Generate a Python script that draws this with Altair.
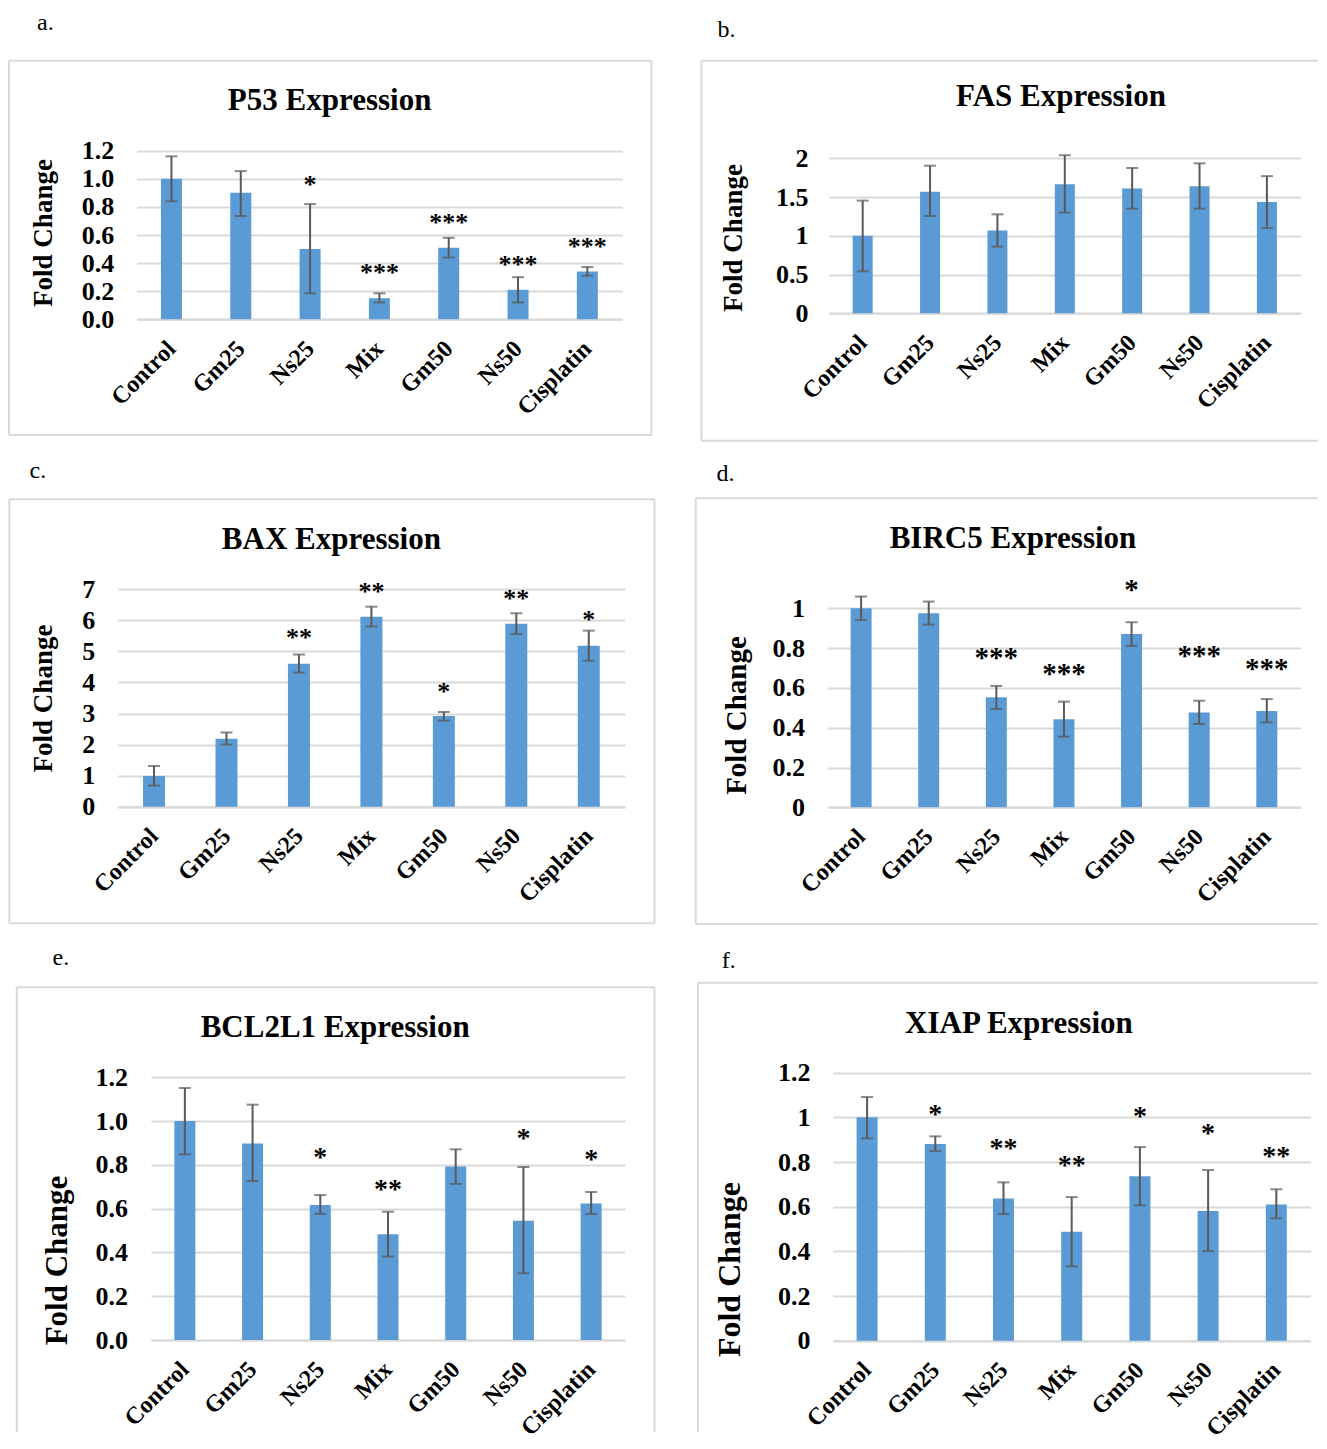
import altair as alt
import pandas as pd

groups = ["Control", "Gm25", "Ns25", "Mix", "Gm50", "Ns50", "Cisplatin"]

# a. P53
p53_mean = [1.00, 0.90, 0.50, 0.15, 0.51, 0.21, 0.34]
p53_low = [0.84, 0.735, 0.185, 0.12, 0.44, 0.12, 0.31]
p53_high = [1.16, 1.055, 0.82, 0.185, 0.58, 0.30, 0.372]
p53_sig = ["", "", "*", "***", "***", "***", "***"]
p53_sig_at = [None, None, 0.99, 0.367, 0.72, 0.42, 0.55]

# b. FAS
fas_mean = [1.00, 1.57, 1.067, 1.665, 1.61, 1.64, 1.437]
fas_low = [0.542, 1.256, 0.86, 1.30, 1.35, 1.35, 1.10]
fas_high = [1.454, 1.905, 1.277, 2.04, 1.875, 1.935, 1.77]
fas_sig = ["", "", "", "", "", "", ""]
fas_sig_at = [None] * 7

# c. BAX
bax_mean = [0.99, 2.19, 4.60, 6.12, 2.92, 5.89, 5.18]
bax_low = [0.68, 2.00, 4.32, 5.80, 2.77, 5.56, 4.70]
bax_high = [1.31, 2.39, 4.90, 6.44, 3.05, 6.23, 5.67]
bax_sig = ["", "", "**", "**", "*", "**", "*"]
bax_sig_at = [None, None, 5.59, 7.06, 3.85, 6.84, 6.17]

# d. BIRC5
birc5_mean = [1.00, 0.975, 0.553, 0.442, 0.871, 0.476, 0.484]
birc5_low = [0.941, 0.918, 0.494, 0.355, 0.811, 0.419, 0.427]
birc5_high = [1.059, 1.034, 0.61, 0.531, 0.93, 0.536, 0.544]
birc5_sig = ["", "", "***", "***", "*", "***", "***"]
birc5_sig_at = [None, None, 0.774, 0.693, 1.116, 0.784, 0.719]

# e. BCL2L1
bcl_mean = [1.00, 0.898, 0.617, 0.483, 0.792, 0.545, 0.624]
bcl_low = [0.848, 0.726, 0.576, 0.381, 0.713, 0.305, 0.576]
bcl_high = [1.151, 1.075, 0.662, 0.586, 0.871, 0.79, 0.676]
bcl_sig = ["", "", "*", "**", "", "*", "*"]
bcl_sig_at = [None, None, 0.854, 0.708, None, 0.94, 0.845]

# f. XIAP
xiap_mean = [1.00, 0.881, 0.637, 0.488, 0.736, 0.581, 0.61]
xiap_low = [0.906, 0.849, 0.567, 0.333, 0.606, 0.401, 0.548]
xiap_high = [1.091, 0.915, 0.709, 0.643, 0.867, 0.764, 0.678]
xiap_sig = ["", "*", "**", "**", "*", "*", "**"]
xiap_sig_at = [None, 1.031, 0.882, 0.806, 1.022, 0.949, 0.846]

panels = [
    dict(letter="a.", title="P53 Expression", mean=p53_mean, low=p53_low, high=p53_high,
         sig=p53_sig, sig_at=p53_sig_at, ymax=1.2, ticks=[0, 0.2, 0.4, 0.6, 0.8, 1.0, 1.2], fmt=".1f"),
    dict(letter="b.", title="FAS Expression", mean=fas_mean, low=fas_low, high=fas_high,
         sig=fas_sig, sig_at=fas_sig_at, ymax=2.0, ticks=[0, 0.5, 1.0, 1.5, 2.0], fmt=".1~f"),
    dict(letter="c.", title="BAX Expression", mean=bax_mean, low=bax_low, high=bax_high,
         sig=bax_sig, sig_at=bax_sig_at, ymax=7.0, ticks=[0, 1, 2, 3, 4, 5, 6, 7], fmt=".1~f"),
    dict(letter="d.", title="BIRC5 Expression", mean=birc5_mean, low=birc5_low, high=birc5_high,
         sig=birc5_sig, sig_at=birc5_sig_at, ymax=1.0, ticks=[0, 0.2, 0.4, 0.6, 0.8, 1.0], fmt=".1~f"),
    dict(letter="e.", title="BCL2L1 Expression", mean=bcl_mean, low=bcl_low, high=bcl_high,
         sig=bcl_sig, sig_at=bcl_sig_at, ymax=1.2, ticks=[0, 0.2, 0.4, 0.6, 0.8, 1.0, 1.2], fmt=".1f"),
    dict(letter="f.", title="XIAP Expression", mean=xiap_mean, low=xiap_low, high=xiap_high,
         sig=xiap_sig, sig_at=xiap_sig_at, ymax=1.2, ticks=[0, 0.2, 0.4, 0.6, 0.8, 1.0, 1.2], fmt=".1~f"),
]

# ---- layout (pixels, local to each cell) ----
layout = [
    dict(W=680, H=447, L=128.8, R=614, T=142.7, B=311.3, bw=21, lpad=23, ytfs=27,
         ytx=43.9, yty=224.5, tx=321.6, ty=102, lx=29, ly=22, sfs=26,
         frame=(1, 52.7, 643.5, 427), right=True, bottom=True),
    dict(W=630, H=447, L=141, R=612.6, T=150.3, B=305.3, bw=20, lpad=21, ytfs=27,
         ytx=53.9, yty=229.5, tx=373, ty=98, lx=29.6, ly=29, sfs=26,
         frame=(13.4, 52.7, 630, 432.7), right=False, bottom=True),
    dict(W=680, H=485, L=109.8, R=617, T=134.3, B=351.7, bw=22, lpad=23, ytfs=27,
         ytx=43.9, yty=243, tx=323.4, ty=94, lx=21.5, ly=23, sfs=26,
         frame=(1.3, 44.3, 646.5, 468.3), right=True, bottom=True),
    dict(W=630, H=485, L=139.3, R=612.6, T=153.3, B=352.3, bw=21, lpad=22.7, ytfs=29,
         ytx=57.6, yty=260, tx=325, ty=93.3, lx=28.4, ly=25.7, sfs=29,
         frame=(7.7, 43.3, 630, 469), right=False, bottom=True),
    dict(W=680, H=492, L=143, R=617, T=137.3, B=400, bw=21, lpad=23.5, ytfs=31,
         ytx=58.3, yty=320, tx=327.2, ty=96.7, lx=44.6, ly=25, sfs=28,
         frame=(8.8, 47.3, 646.5, 492), right=True, bottom=False),
    dict(W=630, H=492, L=145, R=622.4, T=132.7, B=400.7, bw=21, lpad=23, ytfs=32,
         ytx=51.5, yty=329, tx=330.9, ty=93.3, lx=33.7, ly=28, sfs=28,
         frame=(10, 42.7, 630, 492), right=False, bottom=False),
]

FONT = "Liberation Serif"
BLUE = "#5B9BD5"
GRID = "#D9D9D9"
ERR = "#595959"
one = pd.DataFrame({"k": [0]})


def rule(x0, y0, x1, y1):
    return alt.Chart(one).mark_rule(color=GRID, strokeWidth=2).encode(
        x=alt.value(x0), x2=alt.value(x1), y=alt.value(y0), y2=alt.value(y1))


def make_panel(p, g):
    df = pd.DataFrame({"group": groups, "mean": p["mean"], "low": p["low"],
                       "high": p["high"], "sig": p["sig"], "sig_at": p["sig_at"]})
    df_sig = df[df["sig"] != ""]

    x_axis = alt.Axis(orient="bottom", offset=g["B"] - g["H"], domain=True, domainColor=GRID,
                      domainWidth=2, ticks=False, grid=False, labelAngle=-45, labelAlign="right",
                      labelBaseline="top", labelPadding=17, labelOffset=-8, labelFont=FONT,
                      labelFontSize=24, labelFontWeight="bold", labelColor="black",
                      labelOverlap=False, title=None)
    x_enc = alt.X("group:N", sort=groups,
                  scale=alt.Scale(domain=groups, range=[g["L"], g["R"]], paddingInner=0, paddingOuter=0),
                  axis=x_axis)
    y_scale = alt.Scale(domain=[0, p["ymax"]], range=[g["B"], g["T"]], nice=False, zero=True)
    y_axis = alt.Axis(orient="left", offset=-g["L"], values=p["ticks"], format=p["fmt"],
                      domain=False, ticks=False, grid=True, gridColor=GRID, gridWidth=2,
                      labelFont=FONT, labelFontSize=26, labelFontWeight="bold", labelColor="black",
                      labelPadding=g["lpad"], labelOverlap=False,
                      title="Fold Change", titleFont=FONT, titleFontSize=g["ytfs"],
                      titleFontWeight="bold", titleColor="black", titleAngle=270,
                      titleAlign="center", titleBaseline="alphabetic",
                      titleX=g["ytx"] - g["L"], titleY=g["yty"])

    def y_enc(field):
        return alt.Y(field + ":Q", scale=y_scale, axis=y_axis)

    x0, y0, x1, y1 = g["frame"]
    frames = [rule(x0, y0, x1, y0), rule(x0, y0, x0, y1)]
    if g["right"]:
        frames.append(rule(x1, y0, x1, y1))
    if g["bottom"]:
        frames.append(rule(x0, y1, x1, y1))

    bars = alt.Chart(df).mark_bar(color=BLUE, size=g["bw"]).encode(x=x_enc, y=y_enc("mean"))
    err = alt.Chart(df).mark_rule(color=ERR, strokeWidth=2).encode(
        x=x_enc, y=y_enc("low"), y2=alt.Y2("high:Q"))
    cap_lo = alt.Chart(df).mark_tick(color=ERR, thickness=2, size=12).encode(x=x_enc, y=y_enc("low"))
    cap_hi = alt.Chart(df).mark_tick(color=ERR, thickness=2, size=12).encode(x=x_enc, y=y_enc("high"))

    layers = frames + [bars, err, cap_lo, cap_hi]
    if len(df_sig):
        stars = alt.Chart(df_sig).mark_text(font=FONT, fontSize=g["sfs"], fontWeight="bold",
                                            baseline="middle", dy=5, color="black").encode(
            x=x_enc, y=y_enc("sig_at"), text="sig:N")
        layers.append(stars)

    title_t = alt.Chart(one).mark_text(text=p["title"], font=FONT, fontSize=31, fontWeight="bold",
                                       align="center", baseline="alphabetic", color="black").encode(
        x=alt.value(g["tx"]), y=alt.value(g["ty"]))
    letter_t = alt.Chart(one).mark_text(text=p["letter"], font=FONT, fontSize=24,
                                        align="left", baseline="alphabetic", color="black").encode(
        x=alt.value(g["lx"]), y=alt.value(g["ly"]))
    layers += [title_t, letter_t]
    return alt.layer(*layers).properties(width=g["W"], height=g["H"])


charts = [make_panel(p, g) for p, g in zip(panels, layout)]

chart = alt.concat(*charts, columns=2, spacing=0, align="each", bounds="full", padding=0,
                   background="white").configure_view(strokeWidth=0)

chart.save("out.html", embed_options={"renderer": "svg", "actions": False})
